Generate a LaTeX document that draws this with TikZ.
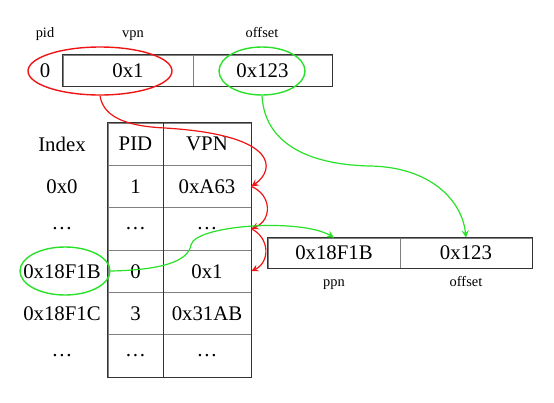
\documentclass[tikz,border=0pt]{standalone}
\usepackage{fontspec}
\setmainfont{Liberation Serif}
\usetikzlibrary{shapes.geometric}
\definecolor{ringred}{RGB}{240,20,20}
\definecolor{ringgreen}{RGB}{40,225,40}

\begin{document}
\begin{tikzpicture}[x=0.5pt,y=-0.5pt,
   cell/.style={rectangle,draw=gray,line width=0.4pt,inner sep=0pt,
    minimum height=21.17pt,font=\fontsize{10.4}{12}\selectfont},
   pidcell/.style={cell,minimum width=27.5pt},
   vpncell/.style={cell,minimum width=44pt},
   field/.style={cell,minimum height=15.5pt},
   lbl/.style={font=\fontsize{10.4}{12}\selectfont},
   fieldname/.style={anchor=base,inner sep=0pt,font=\fontsize{7.2}{8}\selectfont},
   frame/.style={draw=black!80,line width=0.75pt},
   ring/.style={ellipse,draw,line width=0.7pt,inner sep=0pt,minimum height=24pt},
   link/.style={->,>=stealth,line width=0.6pt}
    ]
  \useasboundingbox (0,0) rectangle (554,403);

  % -- virtual address
  \node[fieldname] at (45,37) (pidname) {pid};
  \node[fieldname] at (133,37) (vpnname) {vpn};
  \node[fieldname] at (262,37) (offname) {offset};
  \node[lbl] at (45,70.5) (pidval) {0};
  \node[field,minimum width=65pt] at (128,70.5) (vpnf) {0x1};
  \node[field,minimum width=69.5pt] at (262.5,70.5) (offf) {0x123};
  \draw[frame] (vpnf.north west) rectangle (offf.south east);

  % -- index column
  \node[lbl] at (62,144.2) (i0) {Index};
  \node[lbl] at (62,186.5) (i1) {0x0};
  \node[lbl] at (62,228.8) (i2) {\dots};
  \node[lbl] at (62,271.2) (i3) {0x18F1B};
  \node[lbl] at (62,313.5) (i4) {0x18F1C};
  \node[lbl] at (62,355.8) (i5) {\dots};

  % -- table
  \node[pidcell] at (135.5,144.2) (p0) {PID};
  \node[vpncell] at (207,144.2) (v0) {VPN};
  \node[pidcell] at (135.5,186.5) (p1) {1};
  \node[vpncell] at (207,186.5) (v1) {0xA63};
  \node[pidcell] at (135.5,228.8) (p2) {\dots};
  \node[vpncell] at (207,228.8) (v2) {\dots};
  \node[pidcell] at (135.5,271.2) (p3) {0};
  \node[vpncell] at (207,271.2) (v3) {0x1};
  \node[pidcell] at (135.5,313.5) (p4) {3};
  \node[vpncell] at (207,313.5) (v4) {0x31AB};
  \node[pidcell] at (135.5,355.8) (p5) {\dots};
  \node[vpncell] at (207,355.8) (v5) {\dots};
  \draw[frame] (p0.north west) rectangle (v5.south east);
  \draw[frame] (p0.north east) -- (p5.south east);

  % -- physical address
  \node[field,minimum width=66pt,minimum height=15pt] at (334,253) (ppnf) {0x18F1B};
  \node[field,minimum width=66pt,minimum height=15pt] at (466,253) (off2f) {0x123};
  \draw[frame] (ppnf.north west) rectangle (off2f.south east);
  \node[fieldname] at (334,286) (ppnname) {ppn};
  \node[fieldname] at (466,286) (off2name) {offset};

  % -- rings
  \node[ring,ringred,minimum width=72pt] at (100,71) (vpnring) {};
  \node[ring,ringgreen,minimum width=43pt] at (262,71) (offring) {};
  \node[ring,ringgreen,minimum width=45pt] at (65,271) (idxring) {};

  % -- arrows
  \draw[link,ringred] (vpnring.south) .. controls (103,115) and (122,126) .. (165,128)
     .. controls (280,135) and (275,170) .. (v1.east);
  \draw[link,ringred] (v1.east) .. controls (272,195) and (272,220) .. (v2.east);
  \draw[link,ringred] (v2.east) .. controls (270,238) and (270,262) .. (v3.east);
  \draw[link,ringgreen] (idxring.east) .. controls (160,270) and (188,262) .. (191,245)
     .. controls (195,225) and (300,218) .. (ppnf.north);
  \draw[link,ringgreen] (offring.south) .. controls (265,150) and (320,165) .. (370,166)
     .. controls (430,167) and (462,200) .. (off2f.north);
\end{tikzpicture}
\end{document}
